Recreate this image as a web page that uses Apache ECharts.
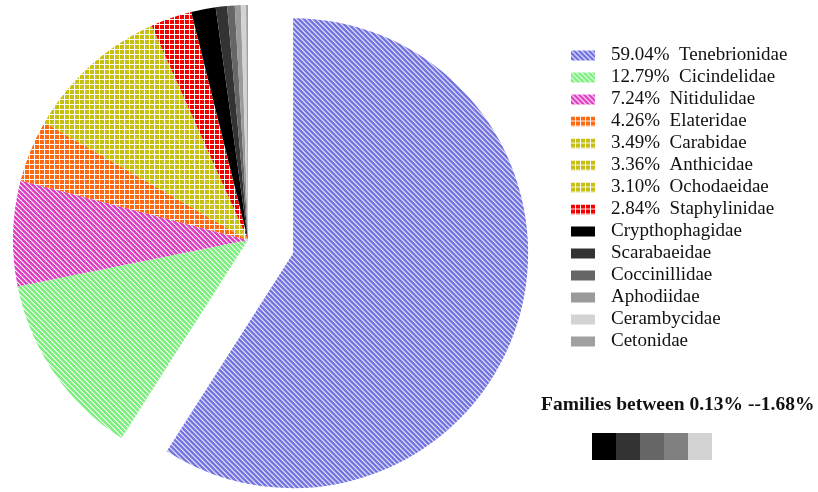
<!DOCTYPE html>
<html><head><meta charset="utf-8">
<script src="https://cdn.jsdelivr.net/npm/echarts@6/dist/echarts.min.js"></script>
<style>html,body{margin:0;padding:0;background:#fff}#c{width:818px;height:492px}</style>
</head><body><div id="c"></div>
<script>
var families = ['Tenebrionidae','Cicindelidae','Nitidulidae','Elateridae','Carabidae','Anthicidae','Ochodaeidae','Staphylinidae','Crypthophagidae','Scarabaeidae','Coccinillidae','Aphodiidae','Cerambycidae','Cetonidae'];
var percents = [59.04,12.79,7.24,4.26,3.49,3.36,3.10,2.84,1.68,0.78,0.52,0.41,0.36,0.13];
var showPct = [true,true,true,true,true,true,true,true,false,false,false,false,false,false];
var fills = ['stripe:#7070e0','stripe:#7cf07c','stripe:#e040c4','grid:#ff6a10','grid:#c8c010','grid:#c8c010','grid:#c8c010','grid:#f20000','#000000','#333333','#666666','#9a9a9a','#d3d3d3','#a0a0a0'];
var scaleColors = ['#000000','#333333','#666666','#808080','#d3d3d3'];
var noteText = 'Families between 0.13% --1.68%';

function hexRgb(h){h=h.replace('#','');return [parseInt(h.substr(0,2),16),parseInt(h.substr(2,2),16),parseInt(h.substr(4,2),16)];}
function makeTile(kind, col){
  var n = kind==='stripe'?5:5;
  var cv=document.createElement('canvas');cv.width=n;cv.height=n;
  var ctx=cv.getContext('2d');var img=ctx.createImageData(n,n);var c=hexRgb(col);
  for(var y=0;y<n;y++)for(var x=0;x<n;x++){
    var w=0;
    if(kind==='stripe'){var d=(((x-y)%n)+n)%n; w = d===0?1:(d===1?0.45:0);}
    else w=((x===n-1)||(y===n-1))?1:0;
    var i=(y*n+x)*4;
    for(var k=0;k<3;k++) img.data[i+k]=Math.round(c[k]*(1-w)+250*w);
    img.data[i+3]=255;
  }
  ctx.putImageData(img,0,0);return cv;
}
function fillOf(f){
  if(f.indexOf(':')>0){var p=f.split(':');return {image:makeTile(p[0],p[1]),repeat:'repeat'};}
  return f;
}
var data = families.map(function(n,i){
  return {name:n,value:percents[i],selected:i===0,itemStyle:{color:fillOf(fills[i])}};
});
var labelMap = {};
families.forEach(function(n,i){labelMap[n]=showPct[i]?(percents[i].toFixed(2)+'%  '+n):n;});

var chart = echarts.init(document.getElementById('c'),null,{renderer:'canvas'});
var boxW=24, boxX0=592;
var graphics=[{type:'text',left:541,top:395,style:{text:noteText,font:'bold 19.5px "Liberation Serif", "Times New Roman", serif',fill:'#111'}}];
scaleColors.forEach(function(c,i){graphics.push({type:'rect',shape:{x:boxX0+i*boxW,y:433,width:boxW,height:27},style:{fill:c}});});
chart.setOption({
  animation:false,
  legend:{orient:'vertical',left:566,top:41,itemWidth:24,itemHeight:10,itemGap:3,icon:'rect',
    selectedMode:false,
    textStyle:{fontFamily:'"Liberation Serif", "Times New Roman", serif',fontSize:19,lineHeight:19,color:'#111',padding:[0,0,0,11]},
    formatter:function(n){return labelMap[n];},data:families},
  graphic:graphics,
  series:[{type:'pie',center:[248,240],radius:[0,235],startAngle:90,clockwise:true,
    selectedMode:'single',selectedOffset:47,label:{show:false},labelLine:{show:false},
    emphasis:{disabled:true},itemStyle:{borderWidth:0},data:data}]
});
</script></body></html>
